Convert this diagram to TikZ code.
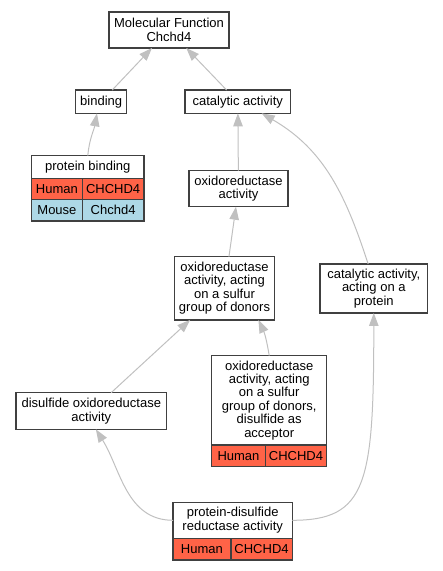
\documentclass[tikz,border=0pt]{standalone}
\usepackage{fontspec}
\setmainfont{Liberation Sans}
\usetikzlibrary{arrows.meta}
\definecolor{boxline}{RGB}{64,64,64}
\definecolor{edgegray}{RGB}{192,192,192}
\definecolor{humanred}{RGB}{255,99,71}
\definecolor{mouseblue}{RGB}{173,216,230}
\tikzset{
  term/.style={
    draw=boxline,
    line width=1.5pt,
    fill=white,
    align=center,
    inner sep=0pt,
    outer sep=0pt,
    font=\fontsize{13}{13.4}\selectfont
  },
  cell-human/.style={term, fill=humanred, anchor=north west},
  cell-mouse/.style={term, fill=mouseblue, anchor=north west},
  isa/.style={draw=edgegray, line width=1pt, -{Triangle[length=13pt,width=9.5pt]}}
}
\begin{document}
\begin{tikzpicture}[x=1pt,y=1pt]
  \useasboundingbox (0,0) rectangle (443,571);

  % Terms
  \node[term, minimum width=120, minimum height=36] (mf) at (169,541) {Molecular Function\\Chchd4};
  \node[term, minimum width=51, minimum height=23.3] (binding) at (101.2,469.3) {binding};
  \node[term, minimum width=105.7, minimum height=23.3] (catalytic) at (237.8,469.3) {catalytic activity};
  \node[term, minimum width=99, minimum height=36] (oxact) at (238.5,382.3) {oxidoreductase\\activity};
  \node[term, minimum width=100.4, minimum height=63.3] (sulfur) at (224.5,282.7)
    {oxidoreductase\\activity, acting\\on a sulfur\\group of donors};
  \node[term, minimum width=107.7, minimum height=49] (catprot) at (373.8,282.5)
    {catalytic activity,\\acting on a\\protein};
  \node[term, minimum width=150.7, minimum height=36.6] (disox) at (91.3,160)
    {disulfide oxidoreductase\\activity};

  % Terms with gene tables
  \node[term, minimum width=112.3, minimum height=22.6] (pb) at (87.8,404) {protein binding};
  \node[cell-human, minimum width=50.6, minimum height=21] (pbh1) at (pb.south west) {Human};
  \node[cell-human, minimum width=61.7, minimum height=21] (pbh2) at (pbh1.north east) {CHCHD4};
  \node[cell-mouse, minimum width=50.6, minimum height=21.7] (pbm1) at (pbh1.south west) {Mouse};
  \node[cell-mouse, minimum width=61.7, minimum height=21.7] (pbm2) at (pbm1.north east) {Chchd4};

  \node[term, minimum width=115, minimum height=89.3] (acceptor) at (269.2,170.7)
    {oxidoreductase\\activity, acting\\on a sulfur\\group of donors,\\disulfide as\\acceptor};
  \node[cell-human, minimum width=53.6, minimum height=21.7] (acch1) at (acceptor.south west) {Human};
  \node[cell-human, minimum width=61.4, minimum height=21.7] (acch2) at (acch1.north east) {CHCHD4};

  \node[term, minimum width=119.3, minimum height=36] (pdr) at (232.7,50.7)
    {protein-disulfide\\reductase activity};
  \node[cell-human, minimum width=57.7, minimum height=21.7] (pdrh1) at (pdr.south west) {Human};
  \node[cell-human, minimum width=61.6, minimum height=21.7] (pdrh2) at (pdrh1.north east) {CHCHD4};

  % is_a edges
  \draw[isa] (binding) -- (mf);
  \draw[isa] (catalytic) -- (mf);
  \draw[isa] (pb.north) to[out=85,in=-100] (binding.250);
  \draw[isa] (oxact) -- (catalytic);
  \draw[isa] (catprot.103) to[out=108,in=-30] (catalytic.-26);
  \draw[isa] (sulfur) -- (oxact);
  \draw[isa] (acceptor.north) to[out=99,in=-65] (sulfur.-43);
  \draw[isa] (disox) -- (sulfur);
  \draw[isa] (pdr.west) to[out=180,in=-58] (disox.-76);
  \draw[isa] (pdr.east) .. controls +(75,0) and +(0,-170) .. (catprot.south);
\end{tikzpicture}
\end{document}
